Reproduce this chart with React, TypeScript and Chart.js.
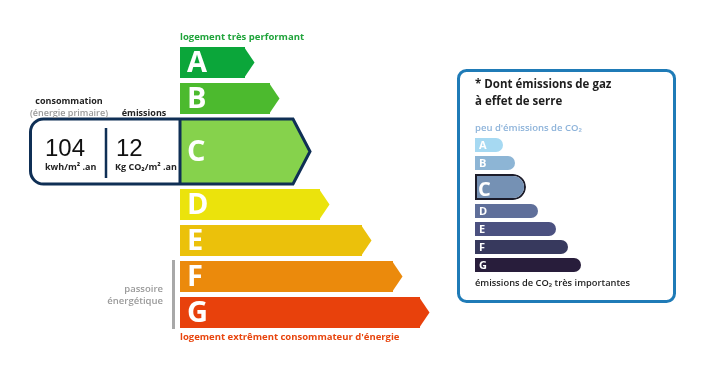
import React, { useEffect, useRef } from "react";
import { Chart, registerables } from "chart.js";

Chart.register(...registerables);

// ---- data ----
const classes = ["A", "B", "C", "D", "E", "F", "G"];
const energyLengths = [65, 90, 113, 140, 182, 213, 240];
const gesLengths = [28, 40, 51, 63, 81, 93, 106];
const currentEnergyClass = "C";
const currentGesClass = "C";
const consumptionValue = "104";
const consumptionUnit = "kwh/m² .an";
const emissionsValue = "12";
const emissionsUnit = "Kg CO₂/m² .an";
const energyColors = ["#0ba63a", "#4cba2e", "#86d24c", "#ebe30c", "#ebc10b", "#eb8a0c", "#e8410c"];
const gesColors = ["#a6d9f2", "#8db5d5", "#7591b4", "#5f6f9a", "#4b5180", "#37395d", "#281d3b"];
const topLabel = "logement très performant";
const bottomLabel = "logement extrêment consommateur d'énergie";
const passoireLines = ["passoire", "énergétique"];
const gesTitleLines = ["* Dont émissions de gaz", "à effet de serre"];
const gesTopLabel = "peu d'émissions de CO₂";
const gesBottomLabel = "émissions de CO₂ très importantes";

const FONT = '"Open Sans", "DejaVu Sans", sans-serif';

function rowCenters(barH: number, curH: number, gap: number, curIdx: number) {
  const centers: number[] = [];
  let top = 0;
  classes.forEach((_, i) => {
    const h = i === curIdx ? curH : barH;
    centers.push(top + h / 2);
    top += h + gap;
  });
  return { centers, total: top - gap };
}

function txt(ctx: CanvasRenderingContext2D, s: string, x: number, y: number, font: string, color: string, align: CanvasTextAlign = "left", baseline: CanvasTextBaseline = "middle") {
  ctx.save();
  ctx.font = font;
  ctx.fillStyle = color;
  ctx.textAlign = align;
  ctx.textBaseline = baseline;
  ctx.fillText(s, x, y);
  ctx.restore();
}

function bars(chart: any, cb: (bar: any, clsIdx: number, isCurrent: boolean) => void) {
  chart.data.datasets.forEach((ds: any, di: number) => {
    const meta = chart.getDatasetMeta(di);
    meta.data.forEach((bar: any, j: number) => {
      const raw = ds.data[j];
      cb(bar.getProps(["x", "y", "base", "height"], true), classes.indexOf(raw.cls), di === 1);
    });
  });
}

const energyPlugin = {
  id: "energyDecor",
  afterDatasetsDraw(chart: any) {
    const ctx: CanvasRenderingContext2D = chart.ctx;
    bars(chart, (b, i, cur) => {
      const top = b.y - b.height / 2;
      const bottom = b.y + b.height / 2;
      const tip = cur ? 17 : 9.5;
      ctx.save();
      ctx.fillStyle = energyColors[i];
      ctx.beginPath();
      ctx.moveTo(b.x - 1, top);
      ctx.lineTo(b.x + tip, b.y);
      ctx.lineTo(b.x - 1, bottom);
      ctx.closePath();
      ctx.fill();
      ctx.restore();
      txt(ctx, classes[i], b.base + 7, b.y + 1, `bold 29px ${FONT}`, "#ffffff");
      if (cur) {
        const L = 30.5;
        const r = 13;
        ctx.save();
        ctx.strokeStyle = "#0f2f55";
        ctx.lineWidth = 3;
        ctx.lineJoin = "miter";
        ctx.beginPath();
        ctx.moveTo(L + r, top);
        ctx.lineTo(b.x, top);
        ctx.lineTo(b.x + tip, b.y);
        ctx.lineTo(b.x, bottom);
        ctx.lineTo(L + r, bottom);
        ctx.arcTo(L, bottom, L, bottom - r, r);
        ctx.lineTo(L, top + r);
        ctx.arcTo(L, top, L + r, top, r);
        ctx.closePath();
        ctx.stroke();
        ctx.beginPath();
        ctx.moveTo(b.base, top);
        ctx.lineTo(b.base, bottom);
        ctx.stroke();
        ctx.lineWidth = 2.5;
        ctx.beginPath();
        ctx.moveTo(106, top + 9);
        ctx.lineTo(106, bottom - 6);
        ctx.stroke();
        ctx.restore();
        txt(ctx, consumptionValue, 45, top + 37, `24px "Liberation Sans", Arial, sans-serif`, "#111111", "left", "alphabetic");
        txt(ctx, consumptionUnit, 45, top + 48, `bold 9px ${FONT}`, "#222222");
        txt(ctx, emissionsValue, 116, top + 37, `24px "Liberation Sans", Arial, sans-serif`, "#111111", "left", "alphabetic");
        txt(ctx, emissionsUnit, 115, top + 48, `bold 9px ${FONT}`, "#222222");
        txt(ctx, "consommation", 69, top - 18, `bold 9px ${FONT}`, "#222222", "center");
        txt(ctx, "(énergie primaire)", 69, top - 6, `600 9px ${FONT}`, "#9a9a9a", "center");
        txt(ctx, "émissions", 144, top - 6, `bold 9px ${FONT}`, "#222222", "center");
      }
    });
    const area = chart.chartArea;
    txt(ctx, topLabel, area.left, area.top - 10, `bold 9.5px ${FONT}`, "#1fa33a");
    txt(ctx, bottomLabel, area.left, area.bottom + 9, `bold 9.5px ${FONT}`, "#e8450e");
    // passoire marker
    const metaN = chart.getDatasetMeta(0).data;
    const fBar = metaN[metaN.length - 2].getProps(["y", "height"], true);
    const gBar = metaN[metaN.length - 1].getProps(["y", "height"], true);
    ctx.save();
    ctx.fillStyle = "#a8a8a8";
    ctx.fillRect(172, fBar.y - fBar.height / 2 - 1, 3, gBar.y + gBar.height / 2 - (fBar.y - fBar.height / 2) + 2);
    ctx.restore();
    txt(ctx, passoireLines[0], 163, 289, `600 9.5px ${FONT}`, "#9a9a9a", "right");
    txt(ctx, passoireLines[1], 163, 301.5, `600 9.5px ${FONT}`, "#9a9a9a", "right");
  },
};

const gesPlugin = {
  id: "gesDecor",
  afterDatasetsDraw(chart: any) {
    const ctx: CanvasRenderingContext2D = chart.ctx;
    bars(chart, (b, i, cur) => {
      if (cur) txt(ctx, classes[i], b.base + 3, b.y + 3, `bold 20px ${FONT}`, "#ffffff");
      else txt(ctx, classes[i], b.base + 4, b.y + 0.5, `bold 11px ${FONT}`, "#ffffff");
    });
    // box
    const x = 458.5, y = 70.5, w = 216, h = 231, r = 8;
    ctx.save();
    ctx.strokeStyle = "#1f7bb7";
    ctx.lineWidth = 3;
    ctx.beginPath();
    ctx.moveTo(x + r, y);
    ctx.arcTo(x + w, y, x + w, y + h, r);
    ctx.arcTo(x + w, y + h, x, y + h, r);
    ctx.arcTo(x, y + h, x, y, r);
    ctx.arcTo(x, y, x + w, y, r);
    ctx.closePath();
    ctx.stroke();
    ctx.restore();
    const left = chart.chartArea.left;
    txt(ctx, gesTitleLines[0], left, 84.5, `bold 11.5px ${FONT}`, "#1e1e1e");
    txt(ctx, gesTitleLines[1], left, 102, `bold 11.5px ${FONT}`, "#1e1e1e");
    txt(ctx, gesTopLabel, left, 128, `600 9.5px ${FONT}`, "#8db3da");
    txt(ctx, gesBottomLabel, left, 283, `600 9.3px ${FONT}`, "#1e1e1e");
  },
};

export default function App() {
  const mainRef = useRef<HTMLCanvasElement>(null);
  const gesRef = useRef<HTMLCanvasElement>(null);

  useEffect(() => {
    let charts: Chart[] = [];
    let cancelled = false;
    const build = () => {
      if (cancelled || !mainRef.current || !gesRef.current) return;
      const eIdx = classes.indexOf(currentEnergyClass);
      const gIdx = classes.indexOf(currentGesClass);
      const m = rowCenters(31, 65, 5, eIdx);
      const g = rowCenters(14, 26, 4, gIdx);
      const eMax = 260;
      const gMax = 150;

      const mainChart = new Chart(mainRef.current, {
        type: "bar",
        data: {
          datasets: [
            {
              data: classes.map((c, i) => ({ x: energyLengths[i], y: m.centers[i], cls: c })).filter((d) => d.cls !== currentEnergyClass) as any,
              backgroundColor: (ctx: any) => energyColors[classes.indexOf(ctx.raw?.cls)],
              barThickness: 31,
              grouped: false,
              borderWidth: 0,
              inflateAmount: 0,
            } as any,
            {
              data: classes.map((c, i) => ({ x: energyLengths[i], y: m.centers[i], cls: c })).filter((d) => d.cls === currentEnergyClass) as any,
              backgroundColor: (ctx: any) => energyColors[classes.indexOf(ctx.raw?.cls)],
              barThickness: 65,
              grouped: false,
              borderWidth: 0,
              inflateAmount: 0,
            } as any,
          ],
        },
        options: {
          indexAxis: "y",
          animation: false,
          responsive: false,
          maintainAspectRatio: false,
          layout: { padding: { left: 180, right: 706 - 180 - eMax, top: 47, bottom: 373 - 47 - m.total } },
          scales: {
            x: { type: "linear", min: 0, max: eMax, display: false, offset: false },
            y: { type: "linear", min: 0, max: m.total, reverse: true, display: false, offset: false },
          },
          plugins: { legend: { display: false }, tooltip: { enabled: false } },
        } as any,
        plugins: [energyPlugin],
      });

      const gesChart = new Chart(gesRef.current, {
        type: "bar",
        data: {
          datasets: [
            {
              data: classes.map((c, i) => ({ x: gesLengths[i], y: g.centers[i], cls: c })).filter((d) => d.cls !== currentGesClass) as any,
              backgroundColor: (ctx: any) => gesColors[classes.indexOf(ctx.raw?.cls)],
              barThickness: 14,
              grouped: false,
              borderWidth: 0,
              borderRadius: 7,
              inflateAmount: 0,
            } as any,
            {
              data: classes.map((c, i) => ({ x: gesLengths[i], y: g.centers[i], cls: c })).filter((d) => d.cls === currentGesClass) as any,
              backgroundColor: (ctx: any) => gesColors[classes.indexOf(ctx.raw?.cls)],
              barThickness: 26,
              grouped: false,
              borderWidth: 2,
              borderColor: "#1c1c2a",
              borderSkipped: false,
              borderRadius: { topLeft: 0, bottomLeft: 0, topRight: 13, bottomRight: 13 },
              inflateAmount: 0,
            } as any,
          ],
        },
        options: {
          indexAxis: "y",
          animation: false,
          responsive: false,
          maintainAspectRatio: false,
          layout: { padding: { left: 475, right: 706 - 475 - gMax, top: 138, bottom: 373 - 138 - g.total } },
          scales: {
            x: { type: "linear", min: 0, max: gMax, display: false, offset: false },
            y: { type: "linear", min: 0, max: g.total, reverse: true, display: false, offset: false },
          },
          plugins: { legend: { display: false }, tooltip: { enabled: false } },
        } as any,
        plugins: [gesPlugin],
      });
      charts = [mainChart, gesChart];
    };
    const fonts = (document as any).fonts;
    if (fonts && fonts.load) {
      Promise.all([
        fonts.load(`bold 12px "Open Sans"`),
        fonts.load(`600 12px "Open Sans"`),
        fonts.load(`24px "Liberation Sans"`),
      ]).then(build, build);
    } else build();
    return () => {
      cancelled = true;
      charts.forEach((c) => c.destroy());
    };
  }, []);

  const cs: React.CSSProperties = { position: "absolute", left: 0, top: 0, width: 706, height: 373 };
  return (
    <div style={{ position: "fixed", left: 0, top: 0, width: 706, height: 373, background: "#ffffff" }}>
      <canvas ref={mainRef} width={706} height={373} style={cs} />
      <canvas ref={gesRef} width={706} height={373} style={cs} />
    </div>
  );
}
